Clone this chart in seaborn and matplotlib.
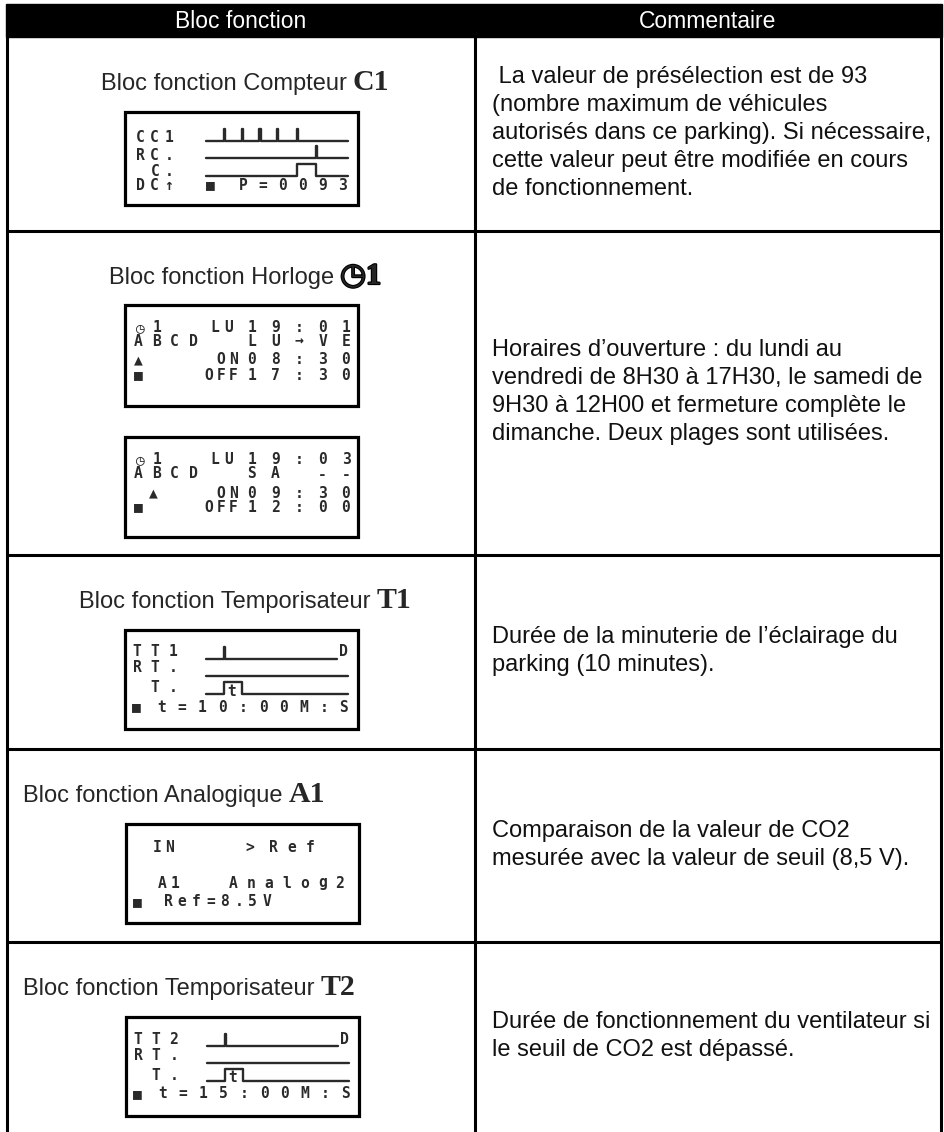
import matplotlib
matplotlib.use("Agg")
import numpy as np
import pandas as pd
import matplotlib.pyplot as plt
import matplotlib.patheffects as pe
from matplotlib.patches import Rectangle
import seaborn as sns

sns.set_theme(style="white")
plt.rcParams['font.family'] = ['Liberation Sans', 'DejaVu Sans']

# ---- table content ----
HEADERS = ["Bloc fonction", "Commentaire"]
BLOCK_NAMES = ["Bloc fonction Compteur", "Bloc fonction Horloge", "Bloc fonction Temporisateur",
               "Bloc fonction Analogique", "Bloc fonction Temporisateur"]
BLOCK_IDS = ["C1", "\u25F71", "T1", "A1", "T2"]
COMMENTS = [
    [" La valeur de présélection est de 93", "(nombre maximum de véhicules",
     "autorisés dans ce parking). Si nécessaire,", "cette valeur peut être modifiée en cours",
     "de fonctionnement."],
    ["Horaires d\u2019ouverture : du lundi au", "vendredi de 8H30 à 17H30, le samedi de",
     "9H30 à 12H00 et fermeture complète le", "dimanche. Deux plages sont utilisées."],
    ["Durée de la minuterie de l\u2019éclairage du", "parking (10 minutes)."],
    ["Comparaison de la valeur de CO2", "mesurée avec la valeur de seuil (8,5 V)."],
    ["Durée de fonctionnement du ventilateur si", "le seuil de CO2 est dépassé."],
]

# ---- LCD screens text ----
LCD_C1 = ["CC1", "RC.", "C.", "DC\u2191", "\u25A0", "P=0093"]
LCD_H1A = ["\u25F71", "LU", "19:01", "ABCD", "LU\u2192VE", "\u25B2", "ON", "08:30", "\u25A0", "OFF", "17:30"]
LCD_H1B = ["\u25F71", "LU", "19:03", "ABCD", "SA --", "\u25B2", "ON", "09:30", "\u25A0", "OFF", "12:00"]
LCD_T1 = ["TT1", "D", "RT.", "T.", "t", "\u25A0", "t=10:00M:S"]
LCD_A1 = ["IN", ">", "Ref", "A1", "Analog2", "\u25A0", "Ref=8.5V"]
LCD_T2 = ["TT2", "D", "RT.", "T.", "t", "\u25A0", "t=15:00M:S"]

# ---- timing diagrams (time units 0..8) ----
COUNT_PULSES = [1.0, 2.0, 3.0, 4.0, 5.1]
RESET_PULSES = [6.2]
COUNTER_OUT = [5.1, 6.2]
TIMER_TRIGGER = [1.0]
TIMER_OUT = [1.0, 2.0]
TRACK_END = 8.0
TRIGGER_END = 7.4

# ---- layout (pixels) ----
W, H = 944, 1132
ROW_EDGES = [37, 231, 555, 749, 942, 1132]
X_LEFT, X_MID, X_RIGHT = 7, 475, 941
TITLE_ALIGN = ["center", "center", "center", "left", "left"]
BOXES = [(125, 112, 233, 93), (125, 305, 233, 101), (125, 437, 233, 100),
         (125, 630, 233, 99), (126, 824, 233, 99), (126, 1017, 233, 99)]
POS_C1 = [(15, 44, 25), (15, 44, 43), (30, 44, 60), (15, 44, 73), (85, 85, 73), (118, 217, 73)]
POS_H1A = [(15, 32, 23), (90, 104, 23), (127, 221, 23), (13, 68, 36), (127, 221, 36),
           (13, 13, 55), (96, 108, 55), (127, 221, 55), (13, 13, 70), (84, 108, 70), (127, 221, 70)]
POS_H1B = [(15, 32, 23), (90, 104, 23), (127, 221, 23), (13, 68, 37), (127, 221, 37),
           (28, 28, 56), (96, 108, 56), (127, 221, 56), (13, 13, 70), (84, 108, 70), (127, 221, 70)]
POS_T = [(12, 48, 22), (218, 218, 22), (12, 48, 38), (30, 48, 58), (107, 107, 61),
         (11, 11, 77), (37, 219, 77)]
POS_A1 = [(31, 44, 23), (124, 124, 23), (147, 184, 23), (36, 49, 59), (107, 214, 59),
          (11, 11, 78), (42, 141, 78)]
TRACK_X0, TRACK_W, TRACK_H = 81, 142, 12
TRACK_LOWS = [29, 46, 64]
INK = '#2a2a2a'

fig = plt.figure(figsize=(W / 100, H / 100), dpi=100)
ax = fig.add_axes([0, 0, 1, 1])
ax.set_xlim(0, W)
ax.set_ylim(H, 0)
ax.axis('off')
renderer = fig.canvas.get_renderer()

# header + grid
ax.add_patch(Rectangle((6, 4), X_RIGHT - 6 + 1, ROW_EDGES[0] - 4, color='black'))
ax.text((X_LEFT + X_MID) / 2, 21, HEADERS[0], color='white', fontsize=16.5, ha='center', va='center')
ax.text((X_MID + X_RIGHT) / 2, 21, HEADERS[1], color='white', fontsize=16.5, ha='center', va='center')
ax.vlines([X_LEFT, X_MID, X_RIGHT], ROW_EDGES[0], H, color='black', lw=2.2)
ax.hlines(ROW_EDGES[1:-1], X_LEFT, X_RIGHT, color='black', lw=2.2)


def draw_title(i):
    y = ROW_EDGES[i] + 53
    t1 = ax.text(0, y, BLOCK_NAMES[i], fontsize=17, va='baseline', ha='left')
    t2 = ax.text(0, y, BLOCK_IDS[i], fontsize=21.5, va='baseline', ha='left',
                 family=['Liberation Serif', 'DejaVu Sans'], weight='bold')
    if '\u25F7' in BLOCK_IDS[i]:
        # the clock glyph is an outline only: thicken it like the bold reference icon
        t2.set_path_effects([pe.withStroke(linewidth=1.6, foreground='black')])
    w1 = t1.get_window_extent(renderer).width
    w2 = t2.get_window_extent(renderer).width
    gap = 6
    if TITLE_ALIGN[i] == 'center':
        x0 = 245 - (w1 + gap + w2) / 2
    else:
        x0 = 23
    t1.set_x(x0)
    t2.set_x(x0 + w1 + gap)


def draw_comment(i):
    lines = COMMENTS[i]
    center = (ROW_EDGES[i] + ROW_EDGES[i + 1]) / 2
    n = len(lines)
    for k, line in enumerate(lines):
        y = center + (k - (n - 1) / 2) * 28 + 5
        ax.text(492, y, line, fontsize=17, va='baseline', ha='left', color='#111111')


def lcd_text(box, strings, positions):
    bx, by, bw, bh = box
    for s, (x0, x1, y) in zip(strings, positions):
        xs = [x0] if len(s) == 1 else np.linspace(x0, x1, len(s))
        for ch, x in zip(s, xs):
            if ch == ' ':
                continue
            ax.text(bx + x, by + y, ch, ha='center', va='center', fontsize=10.5, color=INK,
                    family=['DejaVu Sans Mono', 'DejaVu Sans'], weight='bold')


def draw_box(box):
    bx, by, bw, bh = box
    ax.add_patch(Rectangle((bx, by), bw, bh, fill=False, edgecolor='black', lw=2.3))


def spike_series(times, end, width=0.08):
    t, v = [0.0], [0]
    for s in times:
        t += [s, s + width]
        v += [1, 0]
    t.append(end)
    v.append(0)
    return pd.DataFrame({'t': t, 'v': v})


def pulse_series(on_off, end):
    return pd.DataFrame({'t': [0.0, on_off[0], on_off[1], end], 'v': [0, 1, 0, 0]})


def draw_track(box, row, df):
    bx, by, bw, bh = box
    low = TRACK_LOWS[row]
    tax = fig.add_axes([(bx + TRACK_X0) / W, 1 - (by + low) / H, TRACK_W / W, TRACK_H / H])
    tax.set_xlim(0, TRACK_END)
    tax.set_ylim(0, 1)
    tax.axis('off')
    sns.lineplot(data=df, x='t', y='v', ax=tax, drawstyle='steps-post', color=INK,
                 linewidth=1.7, estimator=None, sort=False)
    for line in tax.lines:
        line.set_clip_on(False)


for i in range(5):
    draw_title(i)
    draw_comment(i)

for box in BOXES:
    draw_box(box)

lcd_text(BOXES[0], LCD_C1, POS_C1)
lcd_text(BOXES[1], LCD_H1A, POS_H1A)
lcd_text(BOXES[2], LCD_H1B, POS_H1B)
lcd_text(BOXES[3], LCD_T1, POS_T)
lcd_text(BOXES[4], LCD_A1, POS_A1)
lcd_text(BOXES[5], LCD_T2, POS_T)

# counter waveforms
draw_track(BOXES[0], 0, spike_series(COUNT_PULSES, TRACK_END))
draw_track(BOXES[0], 1, spike_series(RESET_PULSES, TRACK_END))
draw_track(BOXES[0], 2, pulse_series(COUNTER_OUT, TRACK_END))

# timer waveforms
for box in (BOXES[3], BOXES[5]):
    draw_track(box, 0, spike_series(TIMER_TRIGGER, TRIGGER_END))
    draw_track(box, 1, spike_series([], TRACK_END))
    draw_track(box, 2, pulse_series(TIMER_OUT, TRACK_END))

fig.savefig('out.png', dpi=100, facecolor='white')
